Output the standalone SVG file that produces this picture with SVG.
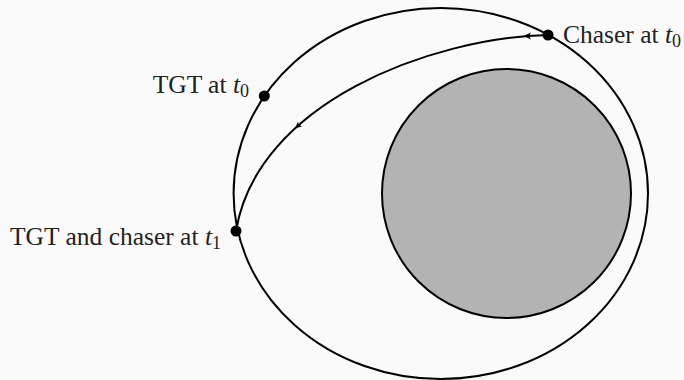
<svg xmlns="http://www.w3.org/2000/svg" width="684" height="380" viewBox="0 0 684 380">
<style>
.ln{fill:none;stroke:#000;stroke-width:2}
.dot{fill:#000}
.lbl{font-family:"Liberation Serif","DejaVu Serif",serif;font-size:25.5px;fill:#222}
.it{font-style:italic}
.sub{font-size:18px}
.ah{fill:#000}
</style>
<rect width="684" height="380" fill="#fafafa"/>
<g id="earth">
<circle cx="506.5" cy="193.5" r="124.5" fill="#b3b3b3" stroke="#000" stroke-width="2"/>
</g>
<g id="orbit">
<ellipse class="ln" cx="440.8" cy="193.5" rx="207.2" ry="185.5"/>
</g>
<g id="connectors">
<path id="transfer" class="ln" d="M548,35 C430,38 257,103 236,231"/>
<polygon class="ah" points="523.5,36.1 531,32.6 529,36 531,39.4"/>
<polygon class="ah" points="295,128.5 298.1,121.4 298.7,125.1 302.3,126.2"/>
</g>
<g id="chaser-t0">
<circle class="dot" cx="548" cy="35" r="5.5"/>
<text class="lbl" x="563" y="43">Chaser at <tspan class="it">t</tspan><tspan class="sub" dy="4">0</tspan></text>
</g>
<g id="tgt-t0">
<circle class="dot" cx="264.3" cy="96" r="5.5"/>
<text class="lbl" x="249" y="93" text-anchor="end">TGT at <tspan class="it">t</tspan><tspan class="sub" dy="4">0</tspan></text>
</g>
<g id="tgt-chaser-t1">
<circle class="dot" cx="236" cy="231" r="5.5"/>
<text class="lbl" x="221" y="245" text-anchor="end">TGT and chaser at <tspan class="it">t</tspan><tspan class="sub" dy="4">1</tspan></text>
</g>
</svg>
